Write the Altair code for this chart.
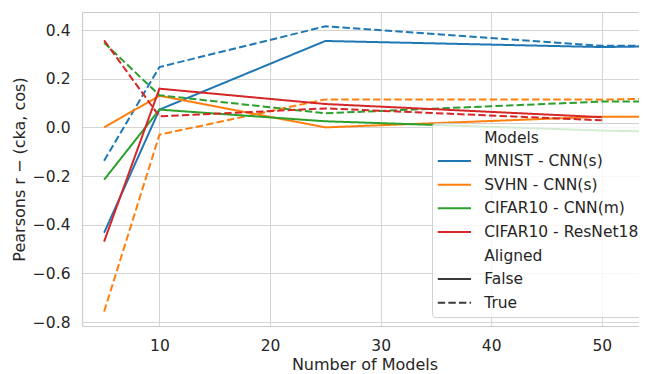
import altair as alt
import pandas as pd

# ---- data ----
x_models = [5, 10, 25, 50, 100]
x_models_resnet = [5, 10, 25, 50]

mnist_false = [-0.433, 0.073, 0.355, 0.330, 0.360]
mnist_true = [-0.137, 0.248, 0.415, 0.335, 0.335]
svhn_false = [0.000, 0.130, 0.000, 0.044, 0.045]
svhn_true = [-0.757, -0.030, 0.115, 0.114, 0.160]
cifar_cnn_false = [-0.215, 0.073, 0.025, -0.013, -0.060]
cifar_cnn_true = [0.348, 0.132, 0.058, 0.106, 0.106]
resnet_false = [-0.469, 0.159, 0.096, 0.042]
resnet_true = [0.358, 0.045, 0.078, 0.029]

model_names = ["MNIST - CNN(s)", "SVHN - CNN(s)", "CIFAR10 - CNN(m)", "CIFAR10 - ResNet18"]
aligned_names = ["False", "True"]
model_colors = ["#1f77b4", "#ff7f0e", "#2ca02c", "#d62728"]

x_ticks = [10, 20, 30, 40, 50]
y_ticks = [-0.8, -0.6, -0.4, -0.2, 0.0, 0.2, 0.4]

series = [
    (model_names[0], "False", x_models, mnist_false),
    (model_names[0], "True", x_models, mnist_true),
    (model_names[1], "False", x_models, svhn_false),
    (model_names[1], "True", x_models, svhn_true),
    (model_names[2], "False", x_models, cifar_cnn_false),
    (model_names[2], "True", x_models, cifar_cnn_true),
    (model_names[3], "False", x_models_resnet, resnet_false),
    (model_names[3], "True", x_models_resnet, resnet_true),
]
rows = []
for order, (m, a, xs, ys) in enumerate(series):
    for x, y in zip(xs, ys):
        rows.append({"n": x, "r": y, "Model": m, "Aligned": a, "o": order})
df = pd.DataFrame(rows)

# seaborn-style legend: pseudo-title entries with invisible handles
legend_entries = ["Models"] + model_names + ["Aligned"] + aligned_names
color_range = ["rgba(0,0,0,0)"] + model_colors + ["rgba(0,0,0,0)", "#3a3a3a", "#3a3a3a"]
solid = [1, 0]
dashed = [7.4, 3.2]
dash_range = [solid] * 7 + [dashed]

FONT = "DejaVu Sans"
TXT = "#262626"
SPINE = "#cccccc"

legend = alt.Legend(
    title=None,
    orient="none",
    legendX=350,
    legendY=111,
    padding=5,
    fillColor="rgba(255,255,255,0.8)",
    strokeColor="rgba(204,204,204,0.9)",
    cornerRadius=3,
    symbolType="M-1.98,0L1.98,0",
    symbolSize=282,
    symbolStrokeWidth=2,
    symbolOffset=7.9,
    labelOffset=20.3,
    rowPadding=5.6,
    labelFont=FONT,
    labelFontSize=15.5,
    labelColor=TXT,
    labelLimit=400,
)

x_scale = alt.Scale(domain=[3.0, 53.36], nice=False, zero=False)
y_scale = alt.Scale(domain=[-0.816, 0.474], nice=False, zero=False)

lines = (
    alt.Chart(df)
    .mark_line(strokeWidth=2, clip=True)
    .encode(
        x=alt.X(
            "n:Q",
            scale=x_scale,
            axis=alt.Axis(
                values=x_ticks,
                title="Number of Models",
                format="d",
                orient="bottom",
                titleX=282.5,
                titlePadding=3,
                titleFontSize=16,
            ),
        ),
        y=alt.Y(
            "r:Q",
            scale=y_scale,
            axis=alt.Axis(
                values=y_ticks,
                format=".1f",
                title="Pearsons r − (cka, cos)",
                titleX=-58,
                titleBaseline="alphabetic",
                titleFontSize=16,
            ),
        ),
        color=alt.Color(
            "Model:N",
            scale=alt.Scale(domain=legend_entries, range=color_range),
            legend=legend,
        ),
        strokeDash=alt.StrokeDash(
            "Aligned:N",
            scale=alt.Scale(domain=legend_entries, range=dash_range),
            legend=legend,
        ),
        order=alt.Order("o:Q"),
    )
)

# invisible layer that only carries the top spine
top_spine = (
    alt.Chart(df)
    .mark_point(opacity=0)
    .encode(
        x=alt.X(
            "n:Q",
            scale=x_scale,
            axis=alt.Axis(
                orient="top",
                labels=False,
                grid=False,
                domain=True,
                domainColor=SPINE,
                domainWidth=1.2,
                title=None,
            ),
        ),
        y=alt.Y("r:Q", scale=y_scale),
    )
)

chart = (
    alt.layer(lines, top_spine)
    .properties(
        width=557,
        height=314,
        autosize=alt.AutoSizeParams(type="none"),
        padding={"left": 74, "top": 4, "right": 0, "bottom": 48},
    )
    .configure_view(stroke=None)
    .configure_axis(
        labelFont=FONT,
        labelFontSize=15.5,
        labelColor=TXT,
        titleFont=FONT,
        titleColor=TXT,
        titleFontWeight="normal",
        ticks=False,
        tickSize=0,
        domain=True,
        domainColor=SPINE,
        domainWidth=1.2,
        grid=True,
        gridColor="#d5d5d5",
        gridWidth=1,
    )
    .configure_axisX(labelPadding=12)
    .configure_axisY(labelPadding=12)
)

chart.save("out.html", embed_options={"renderer": "svg", "actions": False})
